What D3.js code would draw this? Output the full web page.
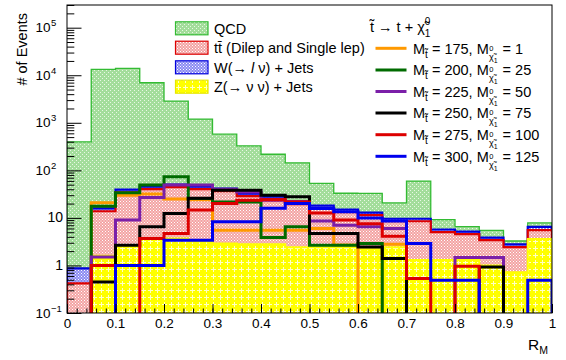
<!DOCTYPE html>
<html><head><meta charset="utf-8">
<script src="https://cdn.jsdelivr.net/npm/d3@7"></script>
<style>
html,body{margin:0;padding:0;background:#fff;}
svg{display:block;font-family:"Liberation Sans",Arial,Helvetica,sans-serif;}
svg text{font-family:"Liberation Sans",Arial,Helvetica,sans-serif;}
</style></head><body>
<svg id="chart" width="566" height="360"></svg>
<script>
// R_M histogram: 20 bins of width 0.05 on [0, 1]
const binEdges = d3.range(21).map(i => +(i * 0.05).toFixed(2));

// Stacked backgrounds (events per bin)
const zJets = [0, 1.6, 2.5, 3.7, 3.7, 3.2, 2.9, 2.8, 2.8, 2.4, 2.4, 2.4, 2.2, 2.4, 1.3, 1.3, 1.3, 1.0, 0.72, 3.6];
const ttbar = [0.42, 12.2, 32, 36.5, 40.6, 37, 33.6, 25.8, 22, 17, 13.6, 10.8, 9.2, 6.1, 7.2, 3.7, 3.25, 2.4, 1.7, 1.95];
const wJets = [0.45, 2.0, 5, 5.2, 5.6, 5.2, 4.7, 3.8, 3.2, 2.6, 2.1, 1.8, 1.5, 1.1, 1.1, 0.7, 0.6, 0.45, 0.35, 0.9];
const qcd   = [397, 13280, 13900, 6900, 2810, 1150, 536, 295, 190, 122, 35, 18, 20, 11, 50, 3.5, 1.4, 1.6, 0.5, 1.4];

// Signal points (stop mass, neutralino mass)
const sig175 = [0, 20.7, 30, 32, 25, 24, 5.5, 5.5, 5.5, 5.5, 6, 2.7, 0, 2.8, 0, 0, 0, 0, 0, 0];
const sig200 = [0, 17.6, 33.6, 49, 73, 25.6, 21.5, 21.5, 3.85, 6.5, 2.66, 2.66, 2.9, 0, 0, 0, 0, 0, 0, 0];
const sig225 = [0, 1.5, 9, 27, 49, 49, 40, 35, 23.5, 22, 8.6, 7, 6.5, 6, 0, 0, 1.47, 1.47, 0, 0];
const sig250 = [0, 0.45, 2.66, 6.5, 12.3, 26, 38, 38, 30, 28, 4.7, 4.7, 2.45, 1.4, 0, 0, 0, 0.93, 0, 0];
const sig275 = [0, 1.0, 0, 3.7, 4.7, 14.6, 20, 23.5, 24, 21.5, 12.7, 9, 7.5, 4.1, 0.53, 0, 0.96, 0, 0, 0];
const sig300 = [0, 0, 1.0, 1.0, 3.4, 3.4, 8.3, 8.3, 16, 20, 15.8, 13.4, 10, 8.6, 2.9, 0.49, 0.49, 0, 0, 0.49];

const signalMasses = [[175, 1], [200, 25], [225, 50], [250, 75], [275, 100], [300, 125]];
const signalColors = ["#ff9900", "#006b00", "#7b1fa8", "#000000", "#dd0000", "#0000ee"];
const signals = [sig175, sig200, sig225, sig250, sig275, sig300];

const xTicks = d3.range(11).map(i => +(i * 0.1).toFixed(1));
const xMinorTicks = d3.range(51).map(i => +(i * 0.02).toFixed(2));
const yTickExps = [-1, 0, 1, 2, 3, 4, 5];

const FONT = "Liberation Sans, Arial, Helvetica, sans-serif";
const svg = d3.select("#chart");
const frame = {left: 67, right: 552, top: 5, bottom: 313};

const x = d3.scaleLinear().domain([0, 1]).range([frame.left, frame.right]);
const y = d3.scaleLog().domain([0.1, 3e5]).range([frame.bottom, frame.top]);
const yv = v => v > 0.1 ? y(v) : frame.bottom + 2;

// fill patterns for the stacked samples
const defs = svg.append("defs");
function dotPattern(id, bg, dot, size) {
  const p = defs.append("pattern").attr("id", id).attr("patternUnits", "userSpaceOnUse")
    .attr("width", size).attr("height", size);
  p.append("rect").attr("width", size).attr("height", size).attr("fill", bg);
  p.append("rect").attr("x", 0).attr("y", 0).attr("width", 1).attr("height", 1).attr("fill", dot);
  p.append("rect").attr("x", size / 2).attr("y", size / 2).attr("width", 1).attr("height", 1).attr("fill", dot);
}
dotPattern("pQCD", "#a3dd9b", "#e8f8e4", 4);
dotPattern("pTT", "#f3a3a3", "#ffffff", 3);
dotPattern("pW", "#8a8af2", "#ffffff", 3);
{
  const p = defs.append("pattern").attr("id", "pZ").attr("patternUnits", "userSpaceOnUse")
    .attr("width", 7).attr("height", 7);
  p.append("rect").attr("width", 7).attr("height", 7).attr("fill", "#ffff00");
  p.append("rect").attr("x", 3).attr("y", 1).attr("width", 1).attr("height", 5).attr("fill", "#ffffc8");
  p.append("rect").attr("x", 1).attr("y", 3).attr("width", 5).attr("height", 1).attr("fill", "#ffffc8");
}
defs.append("clipPath").attr("id", "frameClip").append("rect")
  .attr("x", frame.left).attr("y", frame.top)
  .attr("width", frame.right - frame.left).attr("height", frame.bottom - frame.top);

function stepPath(vals) {
  let p = `M${x(binEdges[0])},${frame.bottom + 2}`;
  vals.forEach((v, i) => {
    p += `L${x(binEdges[i])},${yv(v)}L${x(binEdges[i + 1])},${yv(v)}`;
  });
  p += `L${x(binEdges[binEdges.length - 1])},${frame.bottom + 2}`;
  return p;
}

// cumulative stack: Z at the bottom, then ttbar, W, QCD
const cumZ = zJets.slice();
const cumTT = cumZ.map((v, i) => v + ttbar[i]);
const cumW = cumTT.map((v, i) => v + wJets[i]);
const cumQCD = cumW.map((v, i) => v + qcd[i]);

const plot = svg.append("g").attr("clip-path", "url(#frameClip)");
const layers = [
  {vals: cumQCD, fill: "url(#pQCD)", stroke: "#33bb33", width: 1.3},
  {vals: cumW, fill: "url(#pW)", stroke: "#0000dd", width: 2.2},
  {vals: cumTT, fill: "url(#pTT)", stroke: "#dd0000", width: 2.2},
  {vals: cumZ, fill: "url(#pZ)", stroke: "#ffff00", width: 2}
];
layers.forEach(l => {
  plot.append("path").attr("d", stepPath(l.vals) + "Z").attr("fill", l.fill);
  plot.append("path").attr("d", stepPath(l.vals)).attr("fill", "none")
    .attr("stroke", l.stroke).attr("stroke-width", l.width);
});

signals.forEach((s, k) => {
  plot.append("path").attr("d", stepPath(s)).attr("fill", "none")
    .attr("stroke", signalColors[k]).attr("stroke-width", 3);
});

// axes: ticks point into the frame
const xAxisMinor = d3.axisBottom(x).tickValues(xMinorTicks).tickSize(-4.5).tickFormat("");
const xAxis = d3.axisBottom(x).tickValues(xTicks).tickSize(-9).tickPadding(5)
  .tickFormat(d => d === 0 || d === 1 ? String(d) : d.toFixed(1));
const gxm = svg.append("g").attr("transform", `translate(0,${frame.bottom})`).call(xAxisMinor);
const gx = svg.append("g").attr("transform", `translate(0,${frame.bottom})`).call(xAxis);
[gx, gxm].forEach(g => {
  g.attr("font-family", FONT);
  g.select(".domain").remove();
  g.selectAll("line").attr("stroke", "#000");
});
gx.selectAll("text").attr("font-size", 13.5).attr("fill", "#000");

const yMinor = [];
for (let e = -1; e <= 5; e++) for (let k = 2; k <= 9; k++) {
  const v = k * Math.pow(10, e);
  if (v <= 3e5) yMinor.push(v);
}
const yAxisMinor = d3.axisLeft(y).tickValues(yMinor).tickSize(-7.3).tickFormat("");
const yAxis = d3.axisLeft(y).tickValues(yTickExps.map(e => Math.pow(10, e))).tickSize(-14.5).tickFormat("");
const gym = svg.append("g").attr("transform", `translate(${frame.left},0)`).call(yAxisMinor);
const gy = svg.append("g").attr("transform", `translate(${frame.left},0)`).call(yAxis);
[gy, gym].forEach(g => {
  g.select(".domain").remove();
  g.selectAll("line").attr("stroke", "#000");
});

// y tick labels: plain for 1 and 10, power notation otherwise
yTickExps.forEach(e => {
  const ty = y(Math.pow(10, e)) + 4.5;
  if (e === 0 || e === 1) {
    svg.append("text").attr("x", 63).attr("y", ty).attr("text-anchor", "end")
      .attr("font-size", 14).text(e === 0 ? "1" : "10");
  } else {
    svg.append("text").attr("x", 50.5).attr("y", ty).attr("text-anchor", "end")
      .attr("font-size", 13.5).text("10");
    svg.append("text").attr("x", 51).attr("y", ty - 6).attr("font-size", 9.5)
      .text(String(e).replace("-", "\u2212"));
  }
});

// frame
svg.append("rect").attr("x", frame.left).attr("y", frame.top)
  .attr("width", frame.right - frame.left).attr("height", frame.bottom - frame.top)
  .attr("fill", "none").attr("stroke", "#000").attr("stroke-width", 1);

// axis titles
svg.append("text").attr("transform", `translate(27,13) rotate(-90)`)
  .attr("text-anchor", "end").attr("font-size", 14.5).text("# of Events");
const rt = svg.append("text").attr("x", 528).attr("y", 350).attr("font-size", 15.5);
rt.append("tspan").text("R");
rt.append("tspan").attr("dy", 4).attr("font-size", 10.5).text("M");

// background legend
const bgLegend = [
  {fill: "url(#pQCD)", stroke: "#33bb33"},
  {fill: "url(#pTT)", stroke: "#dd0000"},
  {fill: "url(#pW)", stroke: "#0000dd"},
  {fill: "url(#pZ)", stroke: "#e6e600"}
];
const bgRowY = [28.3, 47.7, 67.3, 86.7];
bgLegend.forEach((d, i) => {
  svg.append("rect").attr("x", 175.5).attr("y", bgRowY[i] - 6.5).attr("width", 32.5).attr("height", 13)
    .attr("fill", d.fill).attr("stroke", d.stroke).attr("stroke-width", 1.2);
  const t = svg.append("text").attr("x", 214).attr("y", bgRowY[i] + 5.2).attr("font-size", 14.5);
  if (i === 0) t.text("QCD");
  else if (i === 1) t.text("tt\u0304 (Dilep and Single lep)");
  else if (i === 2) {
    t.append("tspan").text("W(\u2192 ");
    t.append("tspan").attr("font-style", "italic").text("l");
    t.append("tspan").text(" \u03bd) + Jets");
  } else t.text("Z(\u2192 \u03bd \u03bd) + Jets");
});

// signal legend
const title = svg.append("text").attr("x", 370).attr("y", 32).attr("font-size", 14.5);
title.append("tspan").text("t\u0303 \u2192 t + \u03c7\u0303");
title.append("tspan").attr("dy", -7).attr("font-size", 10).text("0");
title.append("tspan").attr("dx", -5.5).attr("dy", 12).attr("font-size", 10).text("1");

// mass labels: M with a stop subscript, then M with a neutralino subscript
const sigRowY = [48.3, 70, 91.5, 113, 134.7, 156.3];
signalMasses.forEach((m, i) => {
  const cy = sigRowY[i];
  svg.append("line").attr("x1", 375.5).attr("x2", 406.5).attr("y1", cy).attr("y2", cy)
    .attr("stroke", signalColors[i]).attr("stroke-width", 3);
  const base = cy + 5.2;
  const t = svg.append("text").attr("x", 413).attr("y", base).attr("font-size", 14.5);
  t.append("tspan").text("M");
  t.append("tspan").attr("dy", 4).attr("font-size", 10).text("t\u0303");
  t.append("tspan").attr("dy", -4).text(` = ${m[0]}, M`);
  t.append("tspan").attr("dy", -3).attr("dx", 0.5).attr("font-size", 7.5).text("0");
  t.append("tspan").attr("dx", -4.5).attr("dy", 9).attr("font-size", 9).text("\u03c7\u0303");
  t.append("tspan").attr("dy", 3).attr("font-size", 7).text("1");
  t.append("tspan").attr("dy", -9).attr("dx", 1).text(` = ${m[1]}`);
});
</script>
</body></html>
